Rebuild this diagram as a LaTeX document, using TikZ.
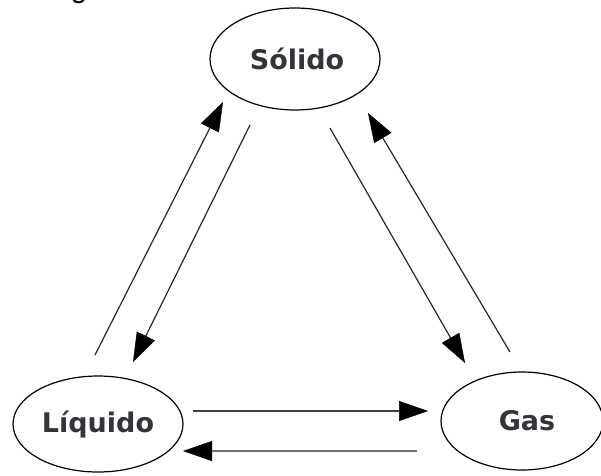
\documentclass[tikz,border=0pt]{standalone}
\usepackage{fontspec}
\setmainfont{DejaVu Sans}
\newfontfamily\fragfont{Liberation Sans}
\usetikzlibrary{shapes.geometric,arrows.meta}
\definecolor{labelgray}{rgb}{0.2,0.2,0.23}
\definecolor{linegray}{rgb}{0.45,0.45,0.45}
\tikzset{
  phase/.style={ellipse, draw=black, line width=1.2pt, inner sep=0pt,
    font=\fontsize{27}{31}\selectfont\bfseries, text=labelgray},
  bighead/.tip={Triangle[length=29pt,width=20pt,color=black,fill=black,line width=0.5pt]},
  flow/.style={line width=1.2pt, draw=black!85, -{bighead}},
}
\begin{document}
\begin{tikzpicture}[x=1pt,y=-1pt]
  \useasboundingbox (0,0) rectangle (601,475);
  % descender of a word cut off above
  \node[font=\fragfont\fontsize{30}{30}\selectfont, anchor=base, inner sep=0pt] (frag) at (79,-3) {g};

  % the three phases
  \node[phase, minimum width=170pt, minimum height=102pt] (sol) at (295,59) {\hspace*{4pt}Sólido};
  \node[phase, minimum width=170pt, minimum height=96pt] (liq) at (98,424) {Líquido};
  \node[phase, minimum width=162pt, minimum height=98pt] (gas) at (522,421) {\hspace*{10pt}Gas};

  % free ends of the transition arrows
  \coordinate (ls-a) at (95,355);  \coordinate (ls-b) at (223,102);
  \coordinate (sl-a) at (250,125); \coordinate (sl-b) at (133,362);
  \coordinate (sg-a) at (330,128); \coordinate (sg-b) at (465,363);
  \coordinate (gs-a) at (510,352); \coordinate (gs-b) at (368,113);
  \coordinate (lg-a) at (193,411); \coordinate (lg-b) at (428,411);
  \coordinate (gl-a) at (417,451); \coordinate (gl-b) at (183,451);

  % transitions
  \draw[flow] (ls-a) -- (ls-b);
  \draw[flow] (sl-a) -- (sl-b);
  \draw[flow] (sg-a) -- (sg-b);
  \draw[flow] (gs-a) -- (gs-b);
  \draw[flow, line width=1.6pt, draw=black!75] (lg-a) -- (lg-b);
  \draw[flow, line width=2.4pt, draw=linegray] (gl-a) -- (gl-b);
\end{tikzpicture}
\end{document}
